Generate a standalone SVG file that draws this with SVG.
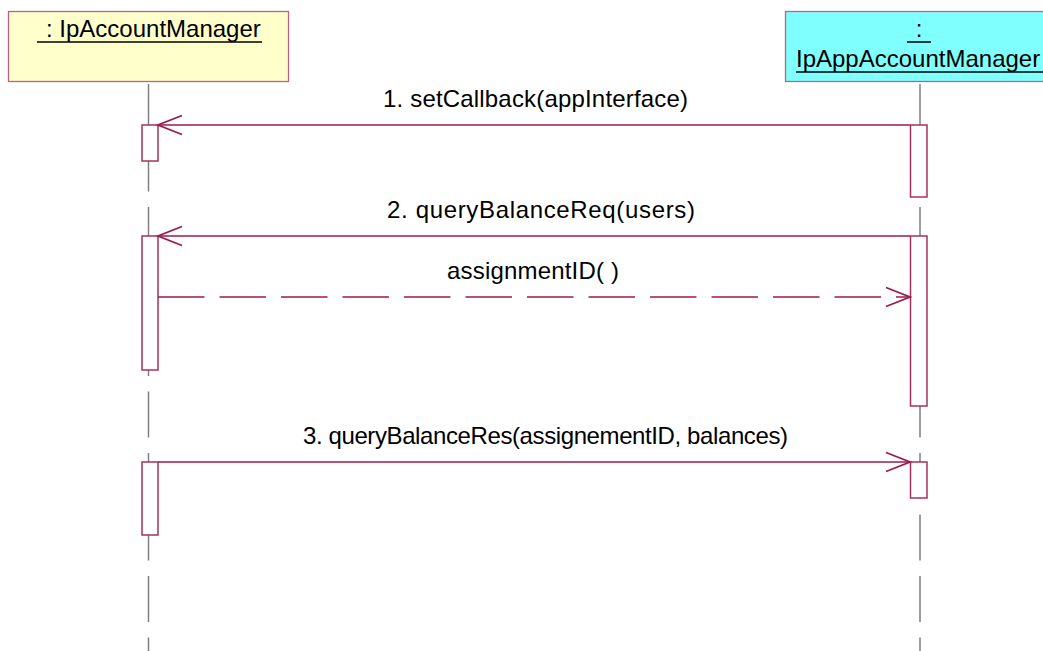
<svg xmlns="http://www.w3.org/2000/svg" width="1043" height="651" viewBox="0 0 1043 651">
<style>
.txt{font-family:"Liberation Sans",Arial,sans-serif;font-size:24px;fill:#000}
.life{stroke:#808080;stroke-width:1.5;stroke-dasharray:46 15.5;fill:none}
.act{fill:#fff;stroke:#A8305E;stroke-width:1.5}
.msg{stroke:#9C1B4B;stroke-width:1.3;fill:none}
.head{stroke:#9C1B4B;stroke-width:1.8;fill:none}
.ul{stroke:#000;stroke-width:1.5}
</style>
<rect width="1043" height="651" fill="#fff"/>
<g id="lifelines">
<line class="life" x1="148.5" y1="84" x2="148.5" y2="651"/>
<line class="life" x1="920" y1="84" x2="920" y2="651"/>
</g>
<g id="node-IpAccountManager">
<rect x="8.5" y="11.5" width="280" height="70" fill="#FFFFCC" stroke="#C06080" stroke-width="1.3"/>
<text class="txt" x="46" y="37">: IpAccountManager</text>
<line class="ul" x1="37" y1="42" x2="262" y2="42"/>
</g>
<g id="node-IpAppAccountManager">
<rect x="785.5" y="11.5" width="270" height="70" fill="#80FFFF" stroke="#C06080" stroke-width="1.3"/>
<text class="txt" x="919" y="37" text-anchor="middle">:</text>
<line class="ul" x1="907" y1="42" x2="931" y2="42"/>
<text class="txt" x="796" y="67">IpAppAccountManager</text>
<line class="ul" x1="796" y1="72" x2="1043" y2="72"/>
</g>
<g id="activations">
<rect class="act" x="142" y="125" width="16" height="36"/>
<rect class="act" x="142" y="236" width="16" height="134"/>
<rect class="act" x="142" y="462" width="16" height="73"/>
<rect class="act" x="910.5" y="125" width="16.5" height="72"/>
<rect class="act" x="910.5" y="236" width="16.5" height="170"/>
<rect class="act" x="910.5" y="462" width="16.5" height="36"/>
</g>
<g id="connectors">
<line class="msg" x1="910" y1="125" x2="158" y2="125"/>
<polyline class="head" points="182,115.5 158,125 182,134.5"/>
<line class="msg" x1="910" y1="236" x2="158" y2="236"/>
<polyline class="head" points="182,226.5 158,236 182,245.5"/>
<line class="msg" x1="158" y1="297" x2="908" y2="297" stroke-dasharray="46.5 15"/>
<polyline class="head" points="886,287.5 910,297 886,306.5"/>
<line class="msg" x1="158" y1="462" x2="910" y2="462"/>
<polyline class="head" points="886,452.5 910,462 886,471.5"/>
</g>
<g id="labels">
<text class="txt" x="383" y="107" textLength="305" lengthAdjust="spacing">1. setCallback(appInterface)</text>
<text class="txt" x="387" y="218" textLength="308" lengthAdjust="spacing">2. queryBalanceReq(users)</text>
<text class="txt" x="447" y="279" textLength="172" lengthAdjust="spacing">assignmentID( )</text>
<text class="txt" x="303" y="444" textLength="485" lengthAdjust="spacing">3. queryBalanceRes(assignementID, balances)</text>
</g>
</svg>
